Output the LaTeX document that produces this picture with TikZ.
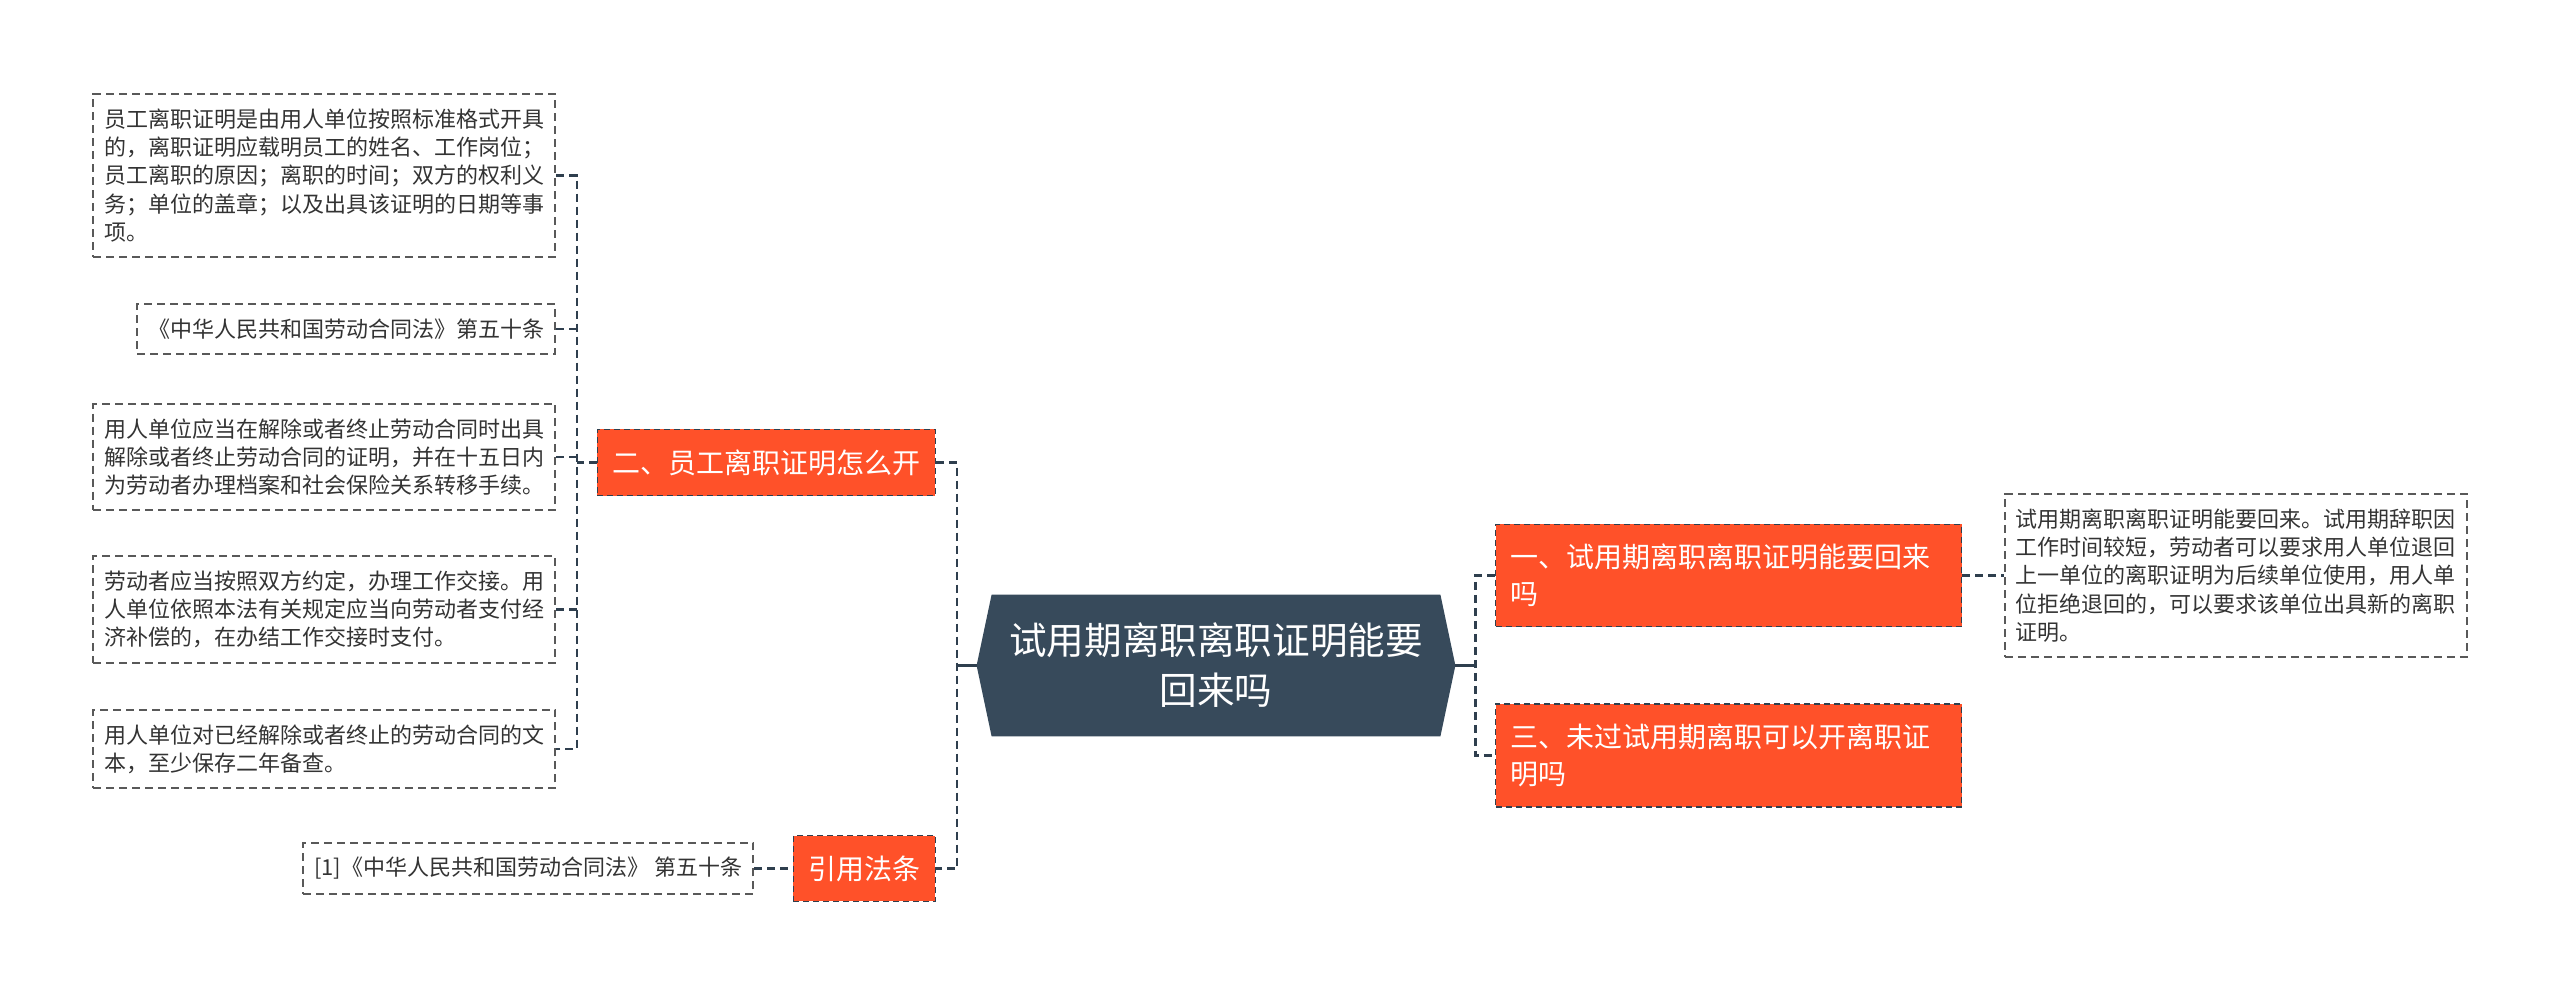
\documentclass[tikz,border=0pt]{standalone}
\usepackage{fontspec}
\setmainfont{Noto Sans CJK SC}
\usepackage{tikz}
\pgfdeclarelayer{bg}
\pgfsetlayers{bg,main}
\definecolor{branchred}{HTML}{FF5129}
\definecolor{rootslate}{HTML}{374A5B}
\definecolor{linkdark}{HTML}{2F3F4E}

\begin{document}
\begin{tikzpicture}[x=0.5pt,y=-0.5pt,
  detail/.style={shape=rectangle,draw=black!65,line width=0.8pt,dash pattern=on 4pt off 2.5pt,
    text=black!80,font=\fontsize{11pt}{14.15pt}\selectfont,align=left,inner xsep=5.5pt,inner ysep=7.3pt},
  branch/.style={shape=rectangle,fill=branchred,draw=linkdark,line width=0.6pt,dash pattern=on 3pt off 2pt,
    text=white,font=\fontsize{14pt}{18.35pt}\selectfont,align=left,inner xsep=7.5pt,inner ysep=10pt},
  root/.style={shape=rectangle,text=white,font=\fontsize{18.8pt}{25pt}\selectfont,align=center,
    minimum width=239pt,minimum height=70.5pt,inner sep=0pt},
  link/.style={draw=linkdark,line width=1.25pt,dash pattern=on 4pt off 2.5pt},
  rootlink/.style={draw=linkdark,line width=1.25pt}]
\useasboundingbox (0,0) rectangle (2560,996);

\node[root] (root) at (1216,665.5) {试用期离职离职证明能要\\回来吗};
\begin{pgfonlayer}{bg}
\fill[rootslate] (root.west) -- ([xshift=7.5pt]root.north west) -- ([xshift=-7.5pt]root.north east)
  -- (root.east) -- ([xshift=-7.5pt]root.south east) -- ([xshift=7.5pt]root.south west) -- cycle;
\end{pgfonlayer}

% left side
\node[branch,anchor=east] (howto) at (936,462.5) {二、员工离职证明怎么开};
\node[branch,anchor=east] (law) at (936,868.5) {引用法条};
\node[detail,anchor=east] (what) at (556,175.5) {员工离职证明是由用人单位按照标准格式开具\\的，离职证明应载明员工的姓名、工作岗位；\\员工离职的原因；离职的时间；双方的权利义\\务；单位的盖章；以及出具该证明的日期等事\\项。};
\node[detail,anchor=east] (article) at (556,329) {《中华人民共和国劳动合同法》第五十条};
\node[detail,anchor=east] (issue) at (556,457) {用人单位应当在解除或者终止劳动合同时出具\\解除或者终止劳动合同的证明，并在十五日内\\为劳动者办理档案和社会保险关系转移手续。};
\node[detail,anchor=east] (handover) at (556,609.5) {劳动者应当按照双方约定，办理工作交接。用\\人单位依照本法有关规定应当向劳动者支付经\\济补偿的，在办结工作交接时支付。};
\node[detail,anchor=east] (keep) at (556,749) {用人单位对已经解除或者终止的劳动合同的文\\本，至少保存二年备查。};
\node[detail,anchor=east] (ref) at (754,868.5) {[1]《中华人民共和国劳动合同法》 第五十条};

% right side
\node[branch,anchor=west,text width=218pt] (back) at (1495,575.5) {一、试用期离职离职证明能要回来\\吗};
\node[branch,anchor=west,text width=218pt] (notyet) at (1495,755.5) {三、未过试用期离职可以开离职证\\明吗};
\node[detail,anchor=west] (answer) at (2004,575.5) {试用期离职离职证明能要回来。试用期辞职因\\工作时间较短，劳动者可以要求用人单位退回\\上一单位的离职证明为后续单位使用，用人单\\位拒绝退回的，可以要求该单位出具新的离职\\证明。};

% connectors
\draw[link] (howto.west) -- ++(-20,0) coordinate (jhow);
\draw[link] (what.east) -| (jhow) |- (keep.east);
\path[link] (article.east) edge (article.east -| jhow);
\path[link] (issue.east) edge (issue.east -| jhow);
\path[link] (handover.east) edge (handover.east -| jhow);
\draw[link] (howto.east) -- ++(21,0) coordinate (jleft) |- (law.east);
\draw[rootlink] (root.west) -- (root.west -| jleft);
\draw[link] (ref.east) -- (law.west);
\draw[rootlink] (root.east) -- ++(20,0) coordinate (jright);
\draw[link] (back.west) -| (jright) |- (notyet.west);
\draw[link] (back.east) -- (answer.west);
\end{tikzpicture}
\end{document}
